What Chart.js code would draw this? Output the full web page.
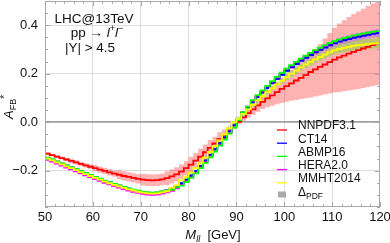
<!DOCTYPE html>
<html><head><meta charset="utf-8">
<script src="https://cdn.jsdelivr.net/npm/chart.js@4"></script>
<style>html,body{margin:0;padding:0;background:#fff;}canvas{display:block;}</style>
</head><body>
<canvas id="c" width="390" height="243"></canvas>
<script>
// bin edges (GeV), 70 bins of 1 GeV
const binEdges = [50,51,52,53,54,55,56,57,58,59,60,61,62,63,64,65,66,67,68,69,70,71,72,73,74,75,76,77,78,79,80,81,82,83,84,85,86,87,88,89,90,91,92,93,94,95,96,97,98,99,100,101,102,103,104,105,106,107,108,109,110,111,112,113,114,115,116,117,118,119,120];
const xTickVals = [50,60,70,80,90,100,110,120];
const yTickVals = [-0.2,0,0.2,0.4];

const nnpdf = [-0.130,-0.136,-0.142,-0.148,-0.154,-0.160,-0.166,-0.172,-0.178,-0.184,
-0.190,-0.196,-0.201,-0.207,-0.212,-0.217,-0.222,-0.226,-0.230,-0.234,
-0.237,-0.239,-0.240,-0.239,-0.236,-0.231,-0.224,-0.215,-0.204,-0.190,
-0.175,-0.159,-0.142,-0.124,-0.106,-0.088,-0.070,-0.052,-0.034,-0.016,
0.002,0.020,0.037,0.053,0.069,0.084,0.098,0.111,0.124,0.137,
0.149,0.160,0.172,0.183,0.194,0.207,0.218,0.228,0.238,0.248,
0.258,0.267,0.275,0.283,0.290,0.297,0.304,0.311,0.318,0.325];
const nnpdfLo = [-0.136,-0.142,-0.148,-0.154,-0.160,-0.169,-0.175,-0.181,-0.187,-0.193,
-0.203,-0.209,-0.214,-0.220,-0.225,-0.236,-0.241,-0.245,-0.249,-0.253,
-0.261,-0.263,-0.264,-0.263,-0.260,-0.260,-0.253,-0.244,-0.233,-0.219,
-0.207,-0.191,-0.174,-0.156,-0.138,-0.116,-0.098,-0.074,-0.050,-0.028,
-0.008,0.006,0.019,0.031,0.043,0.054,0.062,0.068,0.074,0.079,
0.084,0.088,0.092,0.096,0.099,0.102,0.106,0.110,0.114,0.118,
0.122,0.125,0.128,0.131,0.134,0.137,0.141,0.145,0.149,0.153];
const nnpdfHi = [-0.124,-0.130,-0.136,-0.142,-0.148,-0.151,-0.157,-0.163,-0.169,-0.175,
-0.177,-0.183,-0.188,-0.194,-0.199,-0.198,-0.203,-0.207,-0.211,-0.215,
-0.213,-0.215,-0.216,-0.215,-0.212,-0.202,-0.195,-0.186,-0.175,-0.161,
-0.143,-0.127,-0.110,-0.092,-0.074,-0.060,-0.042,-0.030,-0.018,-0.004,
0.012,0.034,0.055,0.075,0.095,0.114,0.134,0.150,0.166,0.183,
0.200,0.215,0.230,0.245,0.262,0.280,0.300,0.322,0.345,0.368,
0.390,0.407,0.421,0.434,0.446,0.457,0.468,0.479,0.490,0.505];
const ct14 = [-0.147,-0.155,-0.163,-0.171,-0.179,-0.187,-0.195,-0.203,-0.211,-0.219,
-0.227,-0.234,-0.242,-0.249,-0.256,-0.262,-0.268,-0.274,-0.279,-0.284,
-0.288,-0.291,-0.292,-0.291,-0.287,-0.282,-0.275,-0.265,-0.252,-0.237,
-0.220,-0.201,-0.180,-0.158,-0.135,-0.111,-0.087,-0.062,-0.037,-0.012,
0.013,0.037,0.060,0.082,0.103,0.122,0.141,0.160,0.178,0.195,
0.212,0.226,0.240,0.253,0.265,0.277,0.288,0.298,0.308,0.317,
0.325,0.332,0.338,0.343,0.348,0.352,0.356,0.360,0.364,0.367];
const ct14Err = [0.004,0.004,0.004,0.004,0.004,0.004,0.004,0.004,0.004,0.004,
0.004,0.004,0.004,0.004,0.004,0.004,0.004,0.004,0.004,0.004,
0.004,0.004,0.004,0.004,0.004,0.004,0.004,0.004,0.004,0.004,
0.004,0.004,0.004,0.004,0.004,0.004,0.004,0.004,0.004,0.004,
0.006,0.006,0.006,0.006,0.006,0.006,0.006,0.006,0.006,0.006,
0.009,0.009,0.010,0.010,0.011,0.011,0.012,0.012,0.013,0.013,
0.014,0.014,0.015,0.015,0.015,0.016,0.016,0.016,0.016,0.016];
const abmp16 = [-0.146,-0.154,-0.162,-0.170,-0.178,-0.186,-0.194,-0.202,-0.210,-0.218,
-0.226,-0.233,-0.241,-0.248,-0.255,-0.261,-0.267,-0.273,-0.278,-0.283,
-0.287,-0.290,-0.291,-0.290,-0.286,-0.281,-0.279,-0.269,-0.262,-0.247,
-0.230,-0.211,-0.190,-0.168,-0.145,-0.121,-0.097,-0.072,-0.047,-0.022,
0.009,0.041,0.064,0.091,0.112,0.131,0.150,0.169,0.187,0.204,
0.221,0.235,0.249,0.262,0.274,0.286,0.297,0.307,0.317,0.326,
0.334,0.341,0.347,0.352,0.357,0.361,0.365,0.369,0.373,0.376];
const hera20 = [-0.155,-0.163,-0.171,-0.179,-0.187,-0.195,-0.203,-0.211,-0.219,-0.227,
-0.235,-0.242,-0.250,-0.257,-0.264,-0.270,-0.276,-0.282,-0.287,-0.292,
-0.296,-0.299,-0.300,-0.299,-0.295,-0.290,-0.283,-0.273,-0.256,-0.241,
-0.224,-0.205,-0.184,-0.162,-0.139,-0.115,-0.091,-0.066,-0.041,-0.016,
0.013,0.041,0.064,0.086,0.107,0.126,0.145,0.164,0.182,0.199,
0.216,0.230,0.244,0.257,0.269,0.281,0.292,0.302,0.312,0.321,
0.329,0.336,0.342,0.347,0.352,0.356,0.360,0.364,0.368,0.371];
const mmht2014 = [-0.150,-0.158,-0.166,-0.174,-0.182,-0.190,-0.198,-0.206,-0.214,-0.222,
-0.230,-0.237,-0.245,-0.252,-0.259,-0.265,-0.271,-0.277,-0.282,-0.287,
-0.291,-0.294,-0.295,-0.294,-0.290,-0.285,-0.271,-0.261,-0.240,-0.225,
-0.208,-0.189,-0.168,-0.146,-0.123,-0.099,-0.075,-0.050,-0.025,0.000,
0.014,0.034,0.053,0.072,0.090,0.107,0.124,0.140,0.156,0.171,
0.186,0.200,0.213,0.226,0.238,0.249,0.259,0.269,0.279,0.288,
0.296,0.302,0.307,0.311,0.315,0.318,0.320,0.322,0.324,0.326];
const mmhtErr = [0.004,0.004,0.004,0.004,0.004,0.004,0.004,0.004,0.004,0.004,
0.004,0.004,0.004,0.004,0.004,0.004,0.004,0.004,0.004,0.004,
0.004,0.004,0.004,0.004,0.004,0.004,0.004,0.004,0.004,0.004,
0.004,0.004,0.004,0.004,0.004,0.004,0.004,0.004,0.004,0.004,
0.008,0.008,0.008,0.008,0.008,0.008,0.008,0.008,0.008,0.008,
0.012,0.013,0.013,0.014,0.014,0.015,0.015,0.016,0.016,0.017,
0.017,0.018,0.018,0.019,0.019,0.020,0.020,0.021,0.021,0.022];

const legendNames = ['NNPDF3.1','CT14','ABMP16','HERA2.0','MMHT2014'];
const legendColors = ['#ff0000','#0000ff','#00ff00','#ff00ff','#ffff00'];

const FONT = '"Liberation Sans", Arial, Helvetica, sans-serif';

function pts(vals){ return binEdges.map((e,i)=>({x:e, y: vals[Math.min(i, vals.length-1)]})); }
function shifted(vals, err, sign){ return vals.map((v,i)=> v + sign*err[i]); }

function lineDs(label, vals, color, order){
  return {label, data: pts(vals), borderColor: color, borderWidth: 1.8, pointRadius: 0, stepped: 'before', fill: false, order};
}
function bandDs(vals, order, fill, color){
  return {label: '', data: pts(vals), borderWidth: 0, borderColor: 'rgba(0,0,0,0)', pointRadius: 0, stepped: 'before', fill: fill, backgroundColor: color, order};
}

const datasets = [
  bandDs(nnpdfLo, 20, false, 'rgba(0,0,0,0)'),
  bandDs(nnpdfHi, 20, '-1', 'rgba(255,0,0,0.3)'),
  bandDs(shifted(ct14, ct14Err, -1), 19, false, 'rgba(0,0,0,0)'),
  bandDs(shifted(ct14, ct14Err, 1), 19, '-1', 'rgba(90,60,255,0.3)'),
  bandDs(shifted(mmht2014, mmhtErr, -1), 18, false, 'rgba(0,0,0,0)'),
  bandDs(shifted(mmht2014, mmhtErr, 1), 18, '-1', 'rgba(110,215,40,0.45)'),
  lineDs('NNPDF3.1', nnpdf, legendColors[0], 5),
  lineDs('HERA2.0', hera20, legendColors[3], 4),
  lineDs('CT14', ct14, legendColors[1], 3),
  lineDs('ABMP16', abmp16, legendColors[2], 2),
  lineDs('MMHT2014', mmht2014, legendColors[4], 1)
];

function runs(ctx, parts, x, y, align){
  let w = 0;
  parts.forEach(p => { ctx.font = p[1]; w += ctx.measureText(p[0]).width; });
  let cx = align === 'center' ? x - w/2 : x;
  parts.forEach(p => { ctx.font = p[1]; ctx.fillText(p[0], cx, y + (p[2]||0)); cx += ctx.measureText(p[0]).width; });
}

const overlay = {
  id: 'overlay',
  afterDraw(chart){
    const {ctx, chartArea: a, scales: {x, y}} = chart;
    ctx.save();
    // frame
    ctx.strokeStyle = '#a8a8a8'; ctx.lineWidth = 1;
    ctx.strokeRect(a.left + 0.5, a.top + 0.5, a.right - a.left - 1, a.bottom - a.top - 1);
    // inward ticks
    ctx.beginPath();
    for (let v = 50; v <= 120; v += 2) {
      const px = Math.round(x.getPixelForValue(v)) + 0.5;
      const L = (v % 10 === 0) ? 5 : 3;
      ctx.moveTo(px, a.bottom); ctx.lineTo(px, a.bottom - L);
      ctx.moveTo(px, a.top); ctx.lineTo(px, a.top + L);
    }
    for (let k = -7; k <= 10; k++) {
      const v = k * 0.05;
      const py = Math.round(y.getPixelForValue(v)) + 0.5;
      const L = (k % 4 === 0) ? 5 : 3;
      ctx.moveTo(a.left, py); ctx.lineTo(a.left + L, py);
      ctx.moveTo(a.right, py); ctx.lineTo(a.right - L, py);
    }
    ctx.stroke();

    ctx.fillStyle = '#111';
    ctx.textAlign = 'left'; ctx.textBaseline = 'alphabetic';
    // annotation
    const f = '13.5px ' + FONT, fi = 'italic 13.5px ' + FONT, fs = '9px ' + FONT;
    runs(ctx, [['LHC@13TeV', f]], 94, 23, 'center');
    runs(ctx, [['pp \u2192 ', f], ['l', fi], ['+', fs, -6], ['l', fi], ['\u2212', fs, -6]], 97, 37, 'center');
    runs(ctx, [['|Y| > 4.5', f]], 90, 52, 'center');

    // legend
    const lf = '12px ' + FONT;
    legendNames.forEach((n, i) => {
      const ty = 126 + 13.2 * i;
      ctx.strokeStyle = legendColors[i]; ctx.lineWidth = 1.3;
      ctx.beginPath(); ctx.moveTo(277, ty + 4); ctx.lineTo(287, ty + 4); ctx.stroke();
      ctx.font = lf; ctx.textBaseline = 'middle';
      ctx.fillText(n, 298, ty);
    });
    const dy = 126 + 13.2 * 5;
    ctx.fillStyle = '#aaaaaa';
    ctx.fillRect(278, dy - 0.5, 8, 6);
    ctx.fillStyle = '#111';
    ctx.textBaseline = 'alphabetic';
    runs(ctx, [['\u0394', lf], ['PDF', '8.5px ' + FONT, 3]], 298, dy + 4, 'left');

    // axis titles
    runs(ctx, [['M', 'italic 13px ' + FONT], ['ll', 'italic 9px ' + FONT, 3], ['  [GeV]', '13px ' + FONT]], 213, 239, 'center');
    ctx.save();
    ctx.translate(13, 107);
    ctx.rotate(-Math.PI / 2);
    runs(ctx, [['A', 'italic 13px ' + FONT], ['FB', '9px ' + FONT, 3], ['*', '10px ' + FONT, -5]], 0, 0, 'center');
    ctx.restore();
    ctx.restore();
  }
};

new Chart(document.getElementById('c'), {
  type: 'line',
  data: { datasets },
  options: {
    responsive: false,
    devicePixelRatio: 1,
    animation: false,
    layout: { padding: { left: 0, right: 10, top: 1, bottom: 0 } },
    plugins: { legend: { display: false }, tooltip: { enabled: false } },
    scales: {
      x: {
        type: 'linear', min: 50, max: 120,
        afterBuildTicks: s => { s.ticks = xTickVals.map(v => ({ value: v })); },
        afterFit: s => { s.height = 36; s.paddingLeft = 0; s.paddingRight = 0; },
        ticks: { autoSkip: false, maxRotation: 0, padding: 3, color: '#111', font: { family: FONT, size: 13 }, callback: v => String(v) },
        grid: { drawTicks: false, color: c => (c.tick && (c.tick.value === 50 || c.tick.value === 120)) ? 'rgba(0,0,0,0)' : '#dcdcdc', lineWidth: 1 },
        border: { display: false }
      },
      y: {
        type: 'linear', min: -0.35, max: 0.5,
        afterBuildTicks: s => { s.ticks = yTickVals.map(v => ({ value: v })); },
        afterFit: s => { s.width = 45; s.paddingTop = 0; s.paddingBottom = 0; },
        ticks: { padding: 7, color: '#111', font: { family: FONT, size: 13 },
          callback: v => (v === 0 ? '0.0' : (v < 0 ? '\u2212' : '') + Math.abs(v).toFixed(1)) },
        grid: { drawTicks: false, color: c => (c.tick && c.tick.value === 0) ? '#a0a0a0' : '#dcdcdc', lineWidth: c => (c.tick && c.tick.value === 0) ? 1.8 : 1 },
        border: { display: false }
      }
    }
  },
  plugins: [overlay]
});
</script>
</body></html>
